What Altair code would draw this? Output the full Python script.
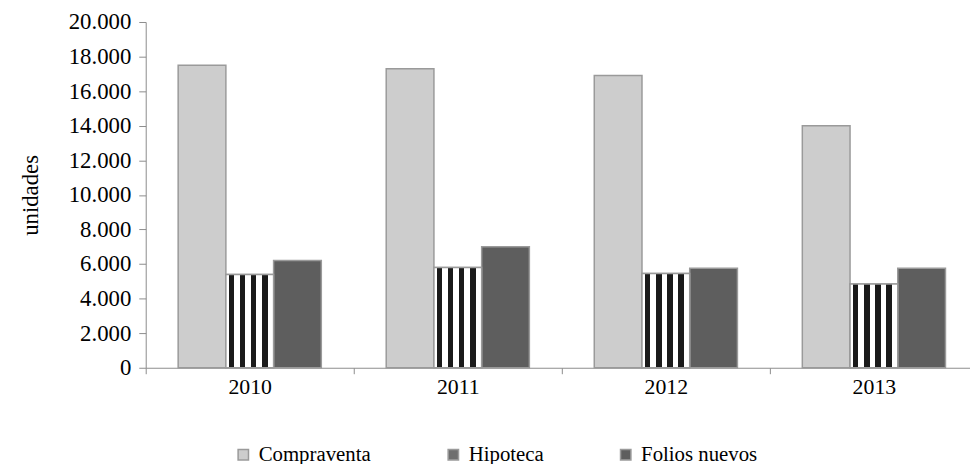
import altair as alt
import pandas as pd

years = ["2010", "2011", "2012", "2013"]
series = ["Compraventa", "Hipoteca", "Folios nuevos"]
compraventa = [17500, 17300, 16900, 14000]
hipoteca = [5400, 5800, 5450, 4850]
folios = [6200, 7000, 5750, 5750]

rows = []
for i, y in enumerate(years):
    rows.append({"Año": y, "Serie": "Compraventa", "Valor": compraventa[i]})
    rows.append({"Año": y, "Serie": "Hipoteca", "Valor": hipoteca[i]})
    rows.append({"Año": y, "Serie": "Folios nuevos", "Valor": folios[i]})
df = pd.DataFrame(rows)

FONT = "Liberation Serif"
AXIS_GRAY = "#8c8c8c"

x_enc = alt.X(
    "Año:N",
    sort=years,
    scale=alt.Scale(paddingInner=0, paddingOuter=0, range=[0, 840]),
    axis=alt.Axis(
        title=None, labelAngle=0, tickBand="extent", tickSize=6,
        labelPadding=3, domainColor=AXIS_GRAY, tickColor=AXIS_GRAY,
        labelFont=FONT, labelFontSize=22, labelColor="black",
    ),
)
xoff_enc = alt.XOffset(
    "Serie:N", sort=series,
    scale=alt.Scale(domain=series, paddingInner=0, paddingOuter=0.68),
)
y_enc = alt.Y(
    "Valor:Q",
    scale=alt.Scale(domain=[0, 20000]),
    axis=alt.Axis(
        title="unidades", values=list(range(0, 20001, 2000)), grid=False,
        labelExpr="replace(format(datum.value, ','), ',', '.')",
        tickSize=7, labelPadding=8, domainColor=AXIS_GRAY, tickColor=AXIS_GRAY,
        labelFont=FONT, labelFontSize=23, labelColor="black",
        titleFont=FONT, titleFontSize=23, titleFontWeight="normal",
        titleColor="black", titlePadding=26,
    ),
)

base = alt.Chart(df)

bars = base.mark_bar(stroke="#9a9a9a", strokeWidth=1.5).encode(
    x=x_enc,
    xOffset=xoff_enc,
    y=y_enc,
    fill=alt.Fill(
        "Serie:N", sort=series,
        scale=alt.Scale(domain=series, range=["#cdcdcd", "#6e6e6e", "#5e5e5e"]),
        legend=alt.Legend(
            title=None, orient="none", direction="horizontal",
            legendX=88, legendY=426, padding=0,
            symbolType="square", symbolSize=110, symbolStrokeColor="#9a9a9a",
            symbolStrokeWidth=1.5, labelFont=FONT, labelFontSize=21,
            labelColor="black", labelOffset=5, columnPadding=72,
        ),
    ),
)

stops = [{"offset": 0, "color": "white"}]
for a, b in [(0.06, 0.17), (0.29, 0.41), (0.53, 0.64), (0.76, 0.88)]:
    stops += [
        {"offset": a, "color": "white"}, {"offset": a, "color": "#1a1a1a"},
        {"offset": b, "color": "#1a1a1a"}, {"offset": b, "color": "white"},
    ]
stops.append({"offset": 1, "color": "white"})

hip = base.transform_filter(alt.datum.Serie == "Hipoteca").mark_bar(
    stroke="#9a9a9a", strokeWidth=1.5,
    fill=alt.Gradient(gradient="linear", stops=stops, x1=0, x2=1, y1=0, y2=0),
).encode(x=x_enc, xOffset=xoff_enc, y=y_enc)

chart = alt.layer(bars, hip).properties(
    width=832, height=349,
    autosize=alt.AutoSizeParams(type="none"),
    padding={"left": 139, "top": 12, "right": 0, "bottom": 95},
).configure(font=FONT).configure_view(stroke=None)

chart.save("out.html", embed_options={"renderer": "svg", "actions": False})
